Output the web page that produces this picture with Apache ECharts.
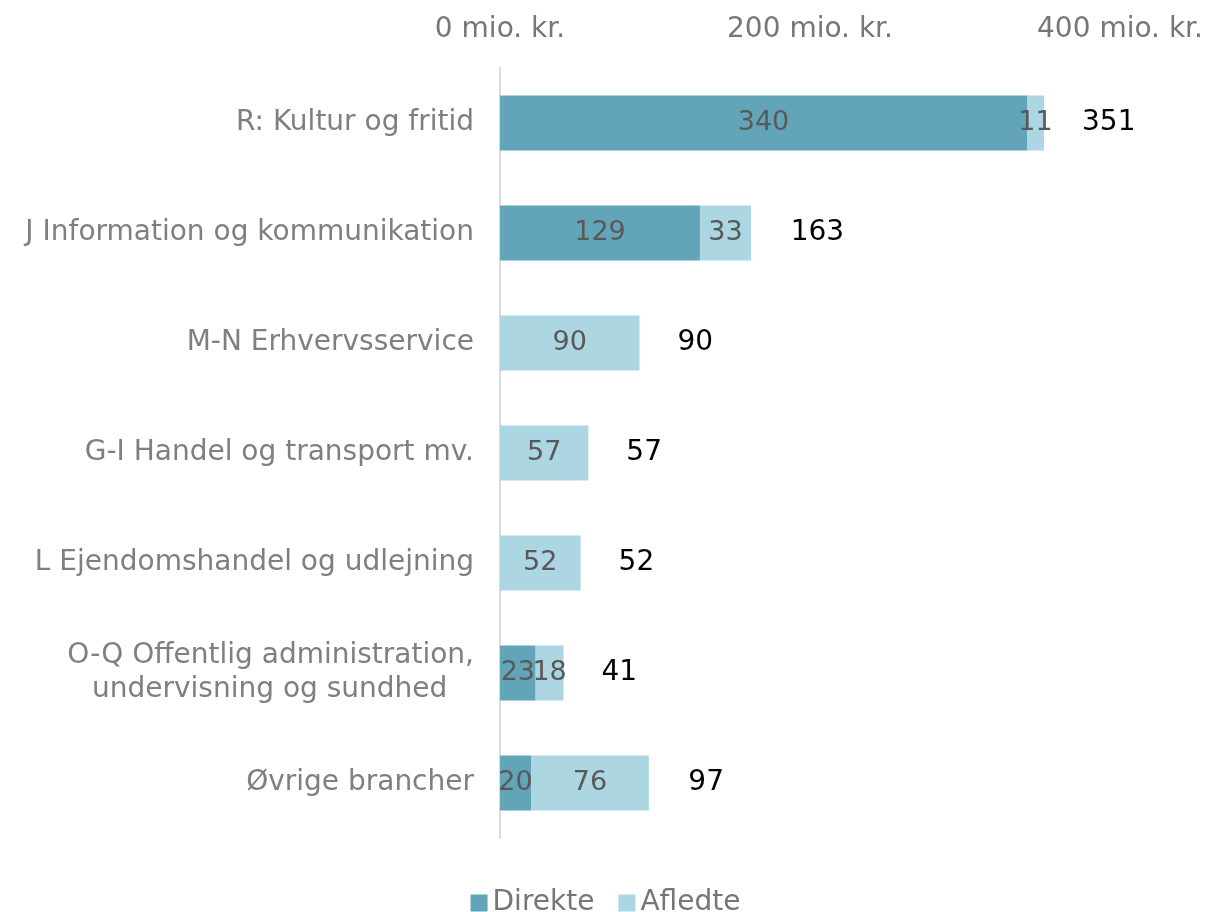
<!DOCTYPE html>
<html>
<head>
<meta charset="utf-8">
<script src="https://cdn.jsdelivr.net/npm/echarts@6/dist/echarts.min.js"></script>
<style>
  html, body { margin: 0; padding: 0; background: #fff; }
  #chart { width: 1211px; height: 912px; }
</style>
</head>
<body>
<div id="chart"></div>
<script>
const categories = [
    'R: Kultur og fritid',
    'J Information og kommunikation',
    'M-N Erhvervsservice',
    'G-I Handel og transport mv.',
    'L Ejendomshandel og udlejning',
    'O-Q Offentlig administration,\nundervisning og sundhed   ',
    'Øvrige brancher'
];
const direkte = [340, 129, null, null, null, 23, 20];
const afledte = [11, 33, 90, 57, 52, 18, 76];
const totals = [351, 163, 90, 57, 52, 41, 97];

const font = '"DejaVu Sans", sans-serif';

const chart = echarts.init(document.getElementById('chart'));

const option = {
    animation: false,
    textStyle: { fontFamily: font },
    grid: { left: 500, right: 91, top: 68, bottom: 74, containLabel: false },
    legend: {
        top: 884,
        left: 'center',
        itemWidth: 17,
        itemHeight: 17,
        itemGap: 24,
        icon: 'rect',
        textStyle: { fontSize: 28, color: '#767676', fontFamily: font },
        data: ['Direkte', 'Afledte']
    },
    xAxis: {
        type: 'value',
        position: 'top',
        min: 0,
        max: 400,
        interval: 200,
        splitLine: { show: false },
        axisLine: { show: false },
        axisTick: { show: false },
        axisLabel: {
            formatter: '{value} mio. kr.',
            fontSize: 28,
            color: '#767676',
            margin: 24,
            fontFamily: font
        }
    },
    yAxis: {
        type: 'category',
        inverse: true,
        data: categories,
        axisLine: { show: true, lineStyle: { color: '#dcdcdc', width: 2 } },
        axisTick: { show: false },
        axisLabel: {
            fontSize: 28,
            color: '#7f7f7f',
            margin: 26,
            lineHeight: 34,
            fontFamily: font
        }
    },
    series: [
        {
            name: 'Direkte',
            type: 'bar',
            stack: 'total',
            barWidth: '50%',
            data: direkte,
            itemStyle: { color: '#62a5b8' },
            label: {
                show: true,
                position: 'inside',
                color: '#595959',
                fontSize: 27,
                fontFamily: font
            }
        },
        {
            name: 'Afledte',
            type: 'bar',
            stack: 'total',
            barWidth: '50%',
            data: afledte,
            itemStyle: { color: '#abd6e2' },
            label: {
                show: true,
                position: 'inside',
                color: '#595959',
                fontSize: 27,
                fontFamily: font
            }
        },
        {
            name: 'Total',
            type: 'bar',
            barWidth: '50%',
            barGap: '-100%',
            data: totals,
            silent: true,
            z: 0,
            itemStyle: { color: 'rgba(0,0,0,0)' },
            label: {
                show: true,
                position: 'right',
                distance: 38,
                color: '#000000',
                fontSize: 28,
                fontFamily: font
            }
        }
    ]
};

chart.setOption(option);
</script>
</body>
</html>
